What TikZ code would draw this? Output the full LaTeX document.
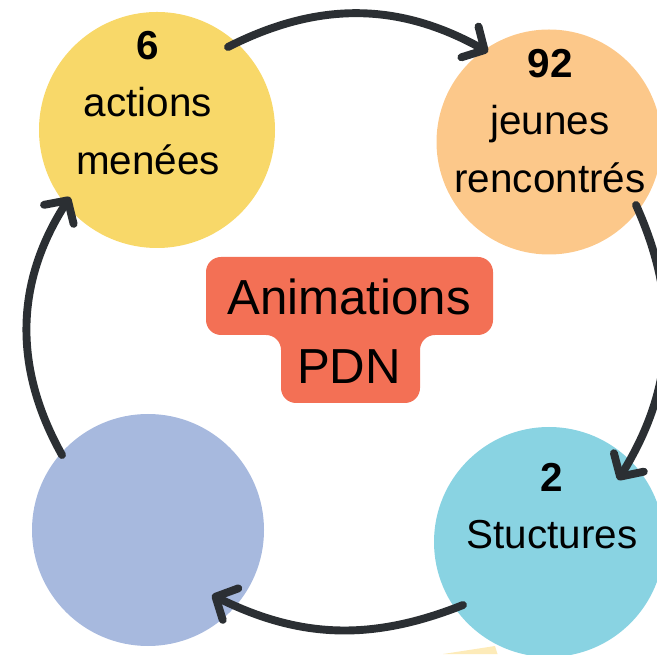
\documentclass[tikz,border=0pt]{standalone}
\usepackage{fontspec}
\setmainfont{Liberation Sans}
\usetikzlibrary{arrows.meta}
\definecolor{jaune}{HTML}{F8D869}
\definecolor{orange}{HTML}{FCC88A}
\definecolor{bleu}{HTML}{89D3E2}
\definecolor{lavande}{HTML}{A7B9DE}
\definecolor{corail}{HTML}{F37055}
\definecolor{pale}{HTML}{FDEBB9}
\definecolor{fleche}{HTML}{2B2F33}

\begin{document}
\begin{tikzpicture}[
    blob/.style={circle,inner sep=0pt},
    txt/.style={align=center,font=\fontsize{23}{32.5}\selectfont},
    arr/.style={-{Straight Barb[length=9.5pt,width=20pt,round]},line width=4.5pt,line cap=round,color=fleche}]
        \useasboundingbox(0,0)rectangle(13.14,13.08);
        \clip(0,0)rectangle(13.14,13.08);
        \fill[pale](8.86,0)--(9.9,0.16)--(9.95,0)--cycle;
        \node[blob,fill=jaune,minimum size=4.72cm](actions)at(3.14,10.48){};
        \node[blob,fill=orange,minimum size=4.5cm](jeunes)at(10.98,10.24){};
        \node[blob,fill=bleu,minimum size=4.6cm](structures)at(10.98,2.24){};
        \node[blob,fill=lavande,minimum size=4.64cm](vide)at(2.96,2.48){};
        \fill[corail,rounded corners=0.3cm](4.12,7.94)--(9.86,7.94)--(9.86,6.38)--(8.4,6.38)--(8.4,5.02)--(5.62,5.02)--(5.62,6.38)--(4.12,6.38)--cycle;
        \node[txt](actionsT)at(2.96,11.02){\textbf{6}\\actions\\menées};
        \node[txt](jeunesT)at(11.0,10.66){\textbf{92}\\jeunes\\rencontrés};
        \node[txt](structuresT)at(11.04,2.96){\textbf{2}\\Stuctures};
        \node[align=center,font=\fontsize{28}{39}\selectfont](titre)at(6.98,6.46){Animations\\PDN};
        % extremites des fleches
        \coordinate(a1)at(4.56,12.14);
        \coordinate(a2)at(9.76,12.04);
        \coordinate(b1)at(12.72,8.98);
        \coordinate(b2)at(12.36,3.48);
        \coordinate(c1)at(9.26,0.98);
        \coordinate(c2)at(4.24,1.18);
        \coordinate(d1)at(1.24,3.98);
        \coordinate(d2)at(1.40,9.14);
        \draw[arr](a1)to[bend left=28](a2);
        \draw[arr](b1)to[bend left=28](b2);
        \draw[arr](c1)to[bend left=24](c2);
        \draw[arr](d1)to[bend left=31](d2);
    \end{tikzpicture}
\end{document}
